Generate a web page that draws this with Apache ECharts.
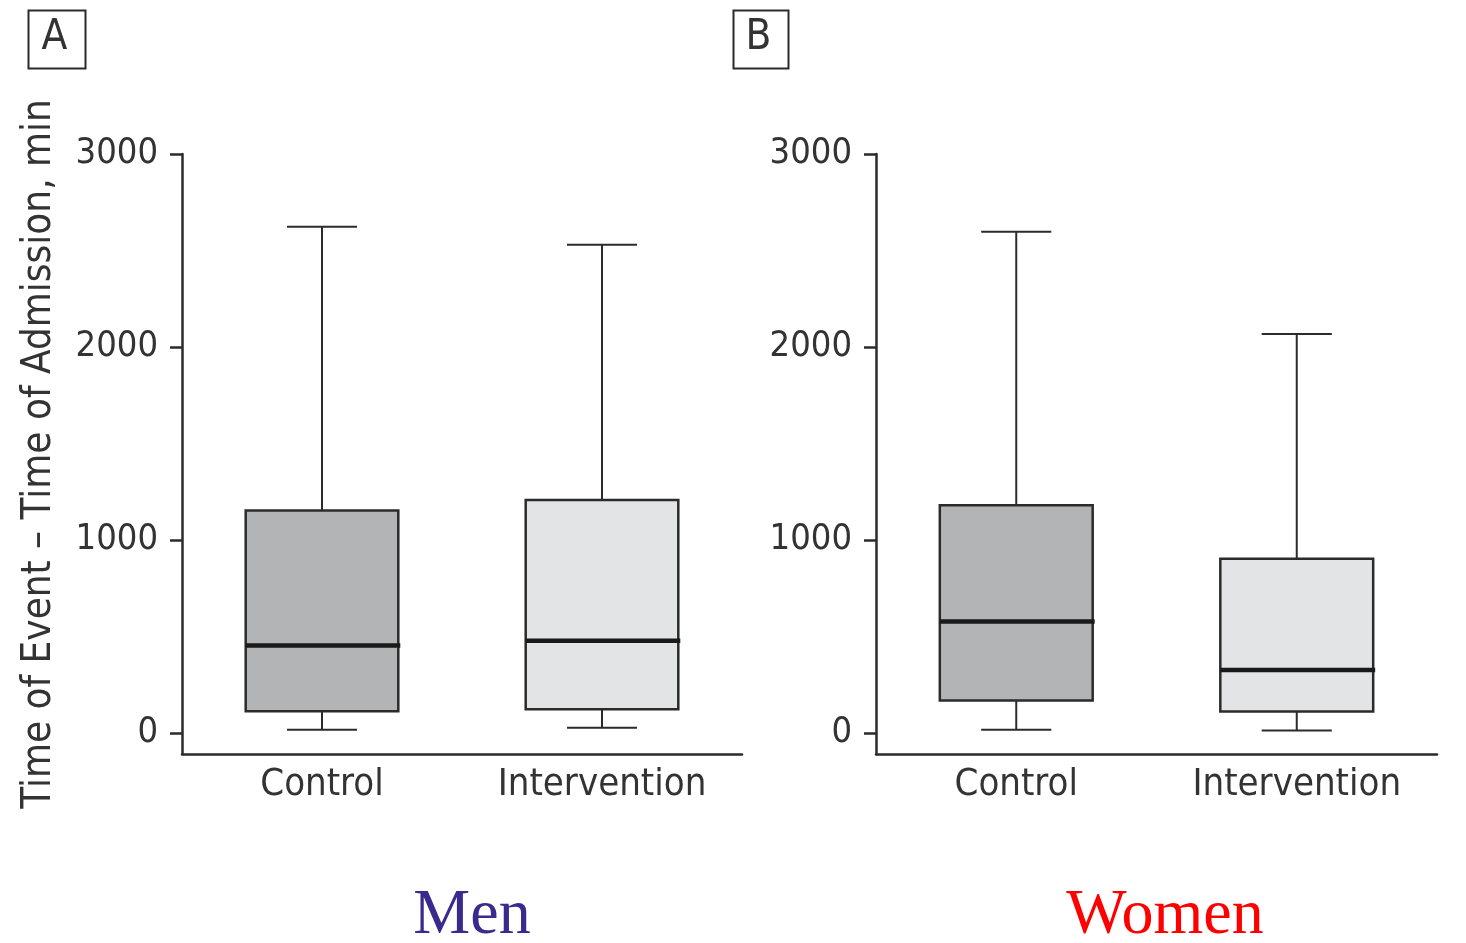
<!DOCTYPE html>
<html>
<head>
<meta charset="utf-8">
<script src="https://cdn.jsdelivr.net/npm/echarts@6/dist/echarts.min.js"></script>
<style>
html,body{margin:0;padding:0;background:#fff;}
#chart{width:1466px;height:943px;}
</style>
</head>
<body>
<div id="chart"></div>
<script>
// ---- data (min, Q1, median, Q3, max) ----
const categories = ['Control', 'Intervention'];
const menControl = [16, 112, 452, 1152, 2623];
const menIntervention = [26, 122, 477, 1207, 2530];
const womenControl = [16, 167, 577, 1179, 2597];
const womenIntervention = [12, 110, 326, 902, 2067];
const yTicks = [0, 1000, 2000, 3000];
const yTitle = 'Time of Event \u2013 Time of Admission, min';
const panelLetters = ['A', 'B'];
const groupTitles = ['Men', 'Women'];

const FONT = "'Liberation Sans Narrow', 'DejaVu Sans Condensed', 'Liberation Sans', sans-serif";
const INK = '#2b2b2b';
const fills = ['#b2b4b6', '#e2e4e6'];

const chart = echarts.init(document.getElementById('chart'), null, {renderer: 'canvas'});

function renderBox(params, api) {
  const cat = api.value(0);
  const lo = api.coord([cat, api.value(1)]);
  const q1 = api.coord([cat, api.value(2)]);
  const med = api.coord([cat, api.value(3)]);
  const q3 = api.coord([cat, api.value(4)]);
  const hi = api.coord([cat, api.value(5)]);
  const band = api.size([1, 0])[0];
  const bw = band * 0.545;
  const cw = band * 0.25;
  const x = lo[0];
  const lineStyle = {stroke: INK, lineWidth: 2, fill: null};
  return {
    type: 'group',
    children: [
      {type: 'line', shape: {x1: x, y1: hi[1], x2: x, y2: q3[1]}, style: lineStyle},
      {type: 'line', shape: {x1: x, y1: q1[1], x2: x, y2: lo[1]}, style: lineStyle},
      {type: 'line', shape: {x1: x - cw / 2, y1: hi[1], x2: x + cw / 2, y2: hi[1]}, style: lineStyle},
      {type: 'line', shape: {x1: x - cw / 2, y1: lo[1], x2: x + cw / 2, y2: lo[1]}, style: lineStyle},
      {type: 'rect', shape: {x: x - bw / 2, y: q3[1], width: bw, height: q1[1] - q3[1]},
        style: {fill: fills[cat], stroke: INK, lineWidth: 2.5}},
      {type: 'line', shape: {x1: x - bw / 2, y1: med[1], x2: x + bw / 2 + 2, y2: med[1]},
        style: {stroke: '#1a1a1a', lineWidth: 4.5}}
    ]
  };
}

function toRows(a, b) {
  return [[0].concat(a), [1].concat(b)];
}

const grids = [
  {left: 182, top: 154, width: 560, height: 600},
  {left: 876, top: 154, width: 561, height: 600}
];

function yAxis(idx) {
  return {
    type: 'value', gridIndex: idx, min: -110, max: 3000,
    name: idx === 0 ? yTitle : '',
    nameLocation: 'middle', nameGap: 122, nameRotate: 90, nameMoveOverlap: false,
    nameTextStyle: {fontFamily: FONT, fontSize: 40, color: '#333'},
    axisLine: {show: true, lineStyle: {color: INK, width: 2.5}},
    axisTick: {show: true, inside: false, length: 12, lineStyle: {color: INK, width: 2.5}, customValues: yTicks},
    axisLabel: {show: true, margin: 24, fontFamily: FONT, fontSize: 36, color: '#333', customValues: yTicks,
      formatter: function (v) { return String(v); }},
    splitLine: {show: false}
  };
}

function xAxis(idx) {
  return {
    type: 'category', gridIndex: idx, data: categories,
    boundaryGap: true,
    axisLine: {show: true, onZero: false, lineStyle: {color: INK, width: 2.5}},
    axisTick: {show: false},
    axisLabel: {margin: 12, interval: 0, hideOverlap: false, fontFamily: FONT, fontSize: 38, color: '#333'},
    splitLine: {show: false}
  };
}

const graphics = [];
const letterBoxes = [{x: 26, w: 57}, {x: 731, w: 55}];
letterBoxes.forEach((b, i) => {
  graphics.push({type: 'rect', left: b.x, top: 8, shape: {x: 0, y: 0, width: b.w, height: 58},
    style: {fill: 'none', stroke: INK, lineWidth: 2}, z: 10});
  graphics.push({type: 'text', x: b.x + b.w / 2, y: 38, z: 10,
    style: {text: panelLetters[i], fontFamily: FONT, fontSize: 42, fill: '#333',
      textAlign: 'center', textVerticalAlign: 'middle', align: 'center', verticalAlign: 'middle'}});
});
const titleColors = ['#3b2a8e', '#ff0000'];
const titleX = [472, 1165];
groupTitles.forEach((t, i) => {
  graphics.push({type: 'text', x: titleX[i], y: 916, z: 10,
    style: {text: t, fontFamily: "'Liberation Serif', 'Times New Roman', serif", fontSize: 64,
      fill: titleColors[i], textAlign: 'center', textVerticalAlign: 'middle', align: 'center', verticalAlign: 'middle'}});
});

chart.setOption({
  animation: false,
  backgroundColor: '#ffffff',
  grid: grids,
  xAxis: [xAxis(0), xAxis(1)],
  yAxis: [yAxis(0), yAxis(1)],
  series: [
    {type: 'custom', xAxisIndex: 0, yAxisIndex: 0, renderItem: renderBox,
      encode: {x: 0, y: [1, 2, 3, 4, 5]}, data: toRows(menControl, menIntervention)},
    {type: 'custom', xAxisIndex: 1, yAxisIndex: 1, renderItem: renderBox,
      encode: {x: 0, y: [1, 2, 3, 4, 5]}, data: toRows(womenControl, womenIntervention)}
  ],
  graphic: graphics
});
</script>
</body>
</html>
